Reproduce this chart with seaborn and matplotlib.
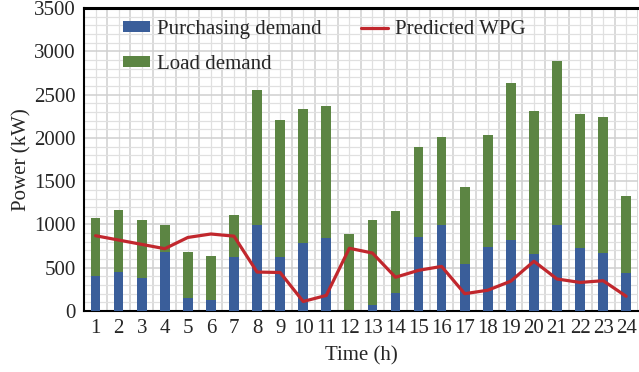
import numpy as np
import pandas as pd
import matplotlib
matplotlib.use("Agg")
import matplotlib.pyplot as plt
import seaborn as sns

# hourly data
hours = list(range(1, 25))
load_demand = [1080, 1165, 1055, 990, 680, 640, 1110, 2555, 2205, 2340,
               2375, 895, 1055, 1150, 1895, 2015, 1435, 2030, 2635, 2315,
               2890, 2280, 2240, 1330]
purchasing_demand = [400, 445, 385, 680, 150, 125, 620, 995, 625, 785,
                     840, 0, 65, 210, 860, 995, 545, 745, 825, 655,
                     995, 730, 675, 440]
predicted_wpg = [870, 820, 770, 720, 850, 890, 865, 450, 445, 110,
                 180, 725, 670, 390, 470, 515, 200, 240, 345, 575,
                 370, 330, 350, 170]

df = pd.DataFrame({'hour': hours, 'load': load_demand,
                   'purchase': purchasing_demand, 'wpg': predicted_wpg})

sns.set_style("white")
plt.rcParams['font.family'] = ['Liberation Serif', 'DejaVu Serif']

green = '#5C8543'
blue = '#3A5E9A'
red = '#C1272D'

fig = plt.figure(figsize=(6.39, 3.72), dpi=100)
ax = fig.add_axes([0.1315, 0.164, 0.8665, 0.814])

sns.barplot(data=df, x='hour', y='load', color=green, width=0.42,
            native_scale=True, saturation=1, linewidth=0,
            label='Load demand', ax=ax, zorder=2)
sns.barplot(data=df, x='hour', y='purchase', color=blue, width=0.42,
            native_scale=True, saturation=1, linewidth=0,
            label='Purchasing demand', ax=ax, zorder=3)
sns.lineplot(data=df, x='hour', y='wpg', color=red, linewidth=2.3,
             label='Predicted WPG', ax=ax, zorder=4)

ax.set_xlim(0.5, 24.5)
ax.set_ylim(0, 3500)
ax.set_xticks(hours)
ax.set_xticklabels([str(h) for h in hours])
ax.set_xticks(np.arange(0.5, 25, 1), minor=True)
ax.set_yticks(range(0, 3501, 500))
ax.set_yticks(range(0, 3501, 100), minor=True)

ax.set_axisbelow(True)
ax.grid(axis='x', which='major', color='#E0E0E0', linewidth=0.9)
ax.grid(axis='x', which='minor', color='#D0D0D0', linewidth=1.1)
ax.grid(axis='y', which='major', color='#D0D0D0', linewidth=1.1)
ax.grid(axis='y', which='minor', color='#E0E0E0', linewidth=0.9)

ax.tick_params(which='both', length=0, labelsize=15)
ax.tick_params(axis='y', pad=6)
ax.tick_params(axis='x', pad=6)

for s in ['left', 'bottom', 'top']:
    ax.spines[s].set_color('black')
    ax.spines[s].set_linewidth(1.5)
ax.spines['top'].set_linewidth(2.2)
ax.spines['right'].set_visible(False)

ax.set_xlabel('Time (h)', fontsize=15, labelpad=6)
ax.set_ylabel('Power (kW)', fontsize=15, labelpad=2)

h, l = ax.get_legend_handles_labels()
lookup = dict(zip(l, h))
order = ['Purchasing demand', 'Load demand', 'Predicted WPG']
ax.legend([lookup[k] for k in order], order, ncol=2, frameon=False,
          fontsize=15, loc='upper left', bbox_to_anchor=(0.1925, 0.946),
          bbox_transform=fig.transFigure, borderpad=0, borderaxespad=0,
          handlelength=1.3, handleheight=0.4, handletextpad=0.35,
          columnspacing=1.85, labelspacing=0.75)

plt.savefig('out.png', dpi=100)
